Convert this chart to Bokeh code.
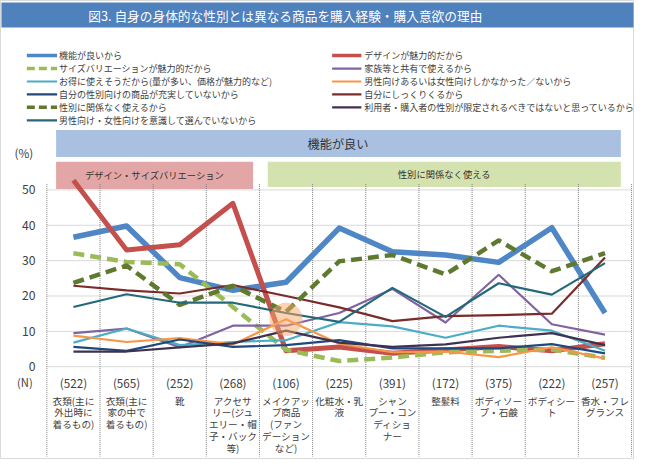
from bokeh.plotting import figure
from bokeh.models import Range1d
from bokeh.embed import file_html
from bokeh.resources import INLINE
from bokeh.core.properties import value

FONT = "Noto Sans CJK JP"

title_text = "図3. 自身の身体的な性別とは異なる商品を購入経験・購入意欲の理由"

categories = [
    "衣類(主に\n外出時に\n着るもの)",
    "衣類(主に\n家の中で\n着るもの)",
    "靴",
    "アクセサ\nリー(ジュ\nエリー・帽\n子・バック\n等)",
    "メイクアッ\nプ商品\n(ファン\nデーション\nなど)",
    "化粧水・乳\n液",
    "シャン\nプー・コン\nディショ\nナー",
    "整髪料",
    "ボディソー\nプ・石鹸",
    "ボディシー\nト",
    "香水・フレ\nグランス",
]
n_values = [522, 565, 252, 268, 106, 225, 391, 172, 375, 222, 257]
y_ticks = [0, 10, 20, 30, 40, 50]

series_names = [
    "機能が良いから",
    "デザインが魅力的だから",
    "サイズバリエーションが魅力的だから",
    "家族等と共有で使えるから",
    "お得に使えそうだから(量が多い、価格が魅力的など)",
    "男性向けあるいは女性向けしかなかった／ないから",
    "自分の性別向けの商品が充実していないから",
    "自分にしっくりくるから",
    "性別に関係なく使えるから",
    "利用者・購入者の性別が限定されるべきではないと思っているから",
    "男性向け・女性向けを意識して選んでいないから",
]
s_kinou = [36.6, 39.8, 25.2, 21.6, 23.9, 39.2, 32.5, 31.6, 29.5, 39.3, 15.2]
s_design = [52.7, 33.0, 34.5, 46.2, 4.5, 5.6, 3.8, 4.7, 5.7, 4.5, 6.5]
s_size = [32.1, 29.6, 29.0, 16.9, 4.8, 1.6, 2.6, 4.1, 4.5, 4.9, 2.5]
s_kazoku = [9.5, 10.8, 5.5, 11.6, 11.6, 15.2, 22.0, 12.5, 26.0, 12.0, 9.1]
s_otoku = [6.8, 10.8, 6.1, 7.0, 7.5, 12.6, 11.4, 8.2, 11.6, 10.2, 4.5]
s_shika = [8.8, 7.0, 8.1, 6.3, 13.4, 6.5, 4.1, 4.3, 2.7, 5.5, 2.3]
s_juujitsu = [5.6, 4.5, 7.7, 5.6, 6.1, 7.5, 5.2, 5.2, 5.2, 6.4, 3.8]
s_shikkuri = [22.9, 21.6, 20.7, 23.1, 20.0, 16.8, 12.9, 14.3, 14.6, 15.0, 30.9]
s_kankei = [23.7, 28.6, 17.5, 22.9, 15.5, 29.8, 31.6, 26.1, 35.7, 27.0, 32.1]
s_riyousha = [4.3, 4.3, 5.5, 6.6, 10.2, 6.8, 5.6, 6.3, 8.2, 9.5, 6.1]
s_ishiki = [16.9, 20.5, 18.1, 18.1, 15.2, 12.7, 22.3, 14.1, 23.6, 20.4, 29.3]

series_values = [s_kinou, s_design, s_size, s_kazoku, s_otoku, s_shika,
                 s_juujitsu, s_shikkuri, s_kankei, s_riyousha, s_ishiki]
series_colors = ["#4f86c6", "#c4504d", "#9bbb59", "#8064a2", "#4bacc6", "#f79646",
                 "#1f497d", "#7a2c2a", "#5f7a2f", "#3f3151", "#23697a"]
series_widths = [5.5, 5, 4.5, 2.2, 2.2, 2.2, 2.2, 2.2, 4.5, 2.2, 2.2]
series_dash = ["solid", "solid", "11 6", "solid", "solid", "solid",
               "solid", "solid", "11 6", "solid", "solid"]

banner_top = "機能が良い"
banner_left = "デザイン・サイズバリエーション"
banner_right = "性別に関係なく使える"

# ---- layout geometry (reference pixel space -> data space) ----
W, H = 634, 459
FS = W / 650.0


def rx(px):
    return -0.5 + (px - 47.5) * 11.0 / 599.5


def ry(py):
    return (379.0 - py) / 3.66


def fs(px):
    return "%.1fpx" % (px * FS)


p = figure(width=W, height=H, x_range=Range1d(rx(0), rx(650)), y_range=Range1d(ry(475), ry(0)),
           output_backend="svg", toolbar_location=None, x_axis_location=None,
           y_axis_location=None, min_border=0)
p.grid.visible = False
p.outline_line_color = "#d9d9d9"
p.background_fill_color = "white"
p.border_fill_color = "white"

TXT = "#404040"

# title bar
p.quad(left=[rx(1)], right=[rx(649)], top=[ry(2)], bottom=[ry(28)], fill_color="#4f81bd", line_color=None)
p.text(x=[rx(90)], y=[ry(15.5)], text=[title_text], text_font=value(FONT), text_font_size=fs(13),
       text_color="white", text_baseline="middle", text_align="left")

# legend (manual, two columns)
for k, name in enumerate(series_names):
    row = k // 2
    if k % 2 == 0:
        x0, x1, xt = 27, 58, 60
    else:
        x0, x1, xt = 340, 370, 373
    yy = ry(57 + 13.4 * row)
    lw = 3.5 if series_widths[k] > 3 else 2.2
    dash = "8 4" if series_dash[k] != "solid" else "solid"
    p.line(x=[rx(x0), rx(x1)], y=[yy, yy], line_color=series_colors[k], line_width=lw, line_dash=dash)
    p.text(x=[rx(xt)], y=[yy], text=[name], text_font=value(FONT), text_font_size=fs(9.2),
           text_color=TXT, text_baseline="middle", text_align="left")

# banners
p.quad(left=[rx(57)], right=[rx(636)], top=[ry(134)], bottom=[ry(162)], fill_color="#a9c0e0", line_color=None)
p.text(x=[rx(346)], y=[ry(148)], text=[banner_top], text_font=value(FONT), text_font_size=fs(12.5),
       text_color="#333333", text_baseline="middle", text_align="center")
p.quad(left=[rx(57)], right=[rx(259)], top=[ry(167)], bottom=[ry(195)], fill_color="#e2a6a6", line_color=None)
p.text(x=[rx(158)], y=[ry(181)], text=[banner_left], text_font=value(FONT), text_font_size=fs(9.5),
       text_color="#333333", text_baseline="middle", text_align="center")
p.quad(left=[rx(274)], right=[rx(636)], top=[ry(167)], bottom=[ry(193)], fill_color="#d3e2ae", line_color=None)
p.text(x=[rx(455)], y=[ry(180)], text=[banner_right], text_font=value(FONT), text_font_size=fs(9.5),
       text_color="#333333", text_baseline="middle", text_align="center")

idx = list(range(len(categories)))

# gridlines
p.segment(x0=[-0.5] * len(y_ticks), x1=[len(categories) - 0.5] * len(y_ticks), y0=y_ticks, y1=y_ticks,
          line_color="#d9d9d9", line_width=1)
# column separators (dotted)
seps = [i - 0.5 for i in range(len(categories) + 1)]
p.segment(x0=seps, x1=seps, y0=[ry(190)] * len(seps), y1=[ry(472)] * len(seps),
          line_color="#7f7f7f", line_width=1, line_dash="1 1")

# y tick labels
p.text(x=[rx(36)] * len(y_ticks), y=y_ticks, text=[str(t) for t in y_ticks], text_font=value(FONT),
       text_font_size=fs(12.5), text_color=TXT, text_baseline="middle", text_align="right")
p.text(x=[rx(24)], y=[ry(157)], text=["(%)"], text_font=value(FONT), text_font_size=fs(12),
       text_color=TXT, text_baseline="middle", text_align="center")

# N row and category labels
p.text(x=[rx(25)], y=[ry(395)], text=["(N)"], text_font=value(FONT), text_font_size=fs(11.5),
       text_color=TXT, text_baseline="middle", text_align="center")
p.text(x=idx, y=[ry(395)] * len(idx), text=["(%d)" % n for n in n_values], text_font=value(FONT),
       text_font_size=fs(12), text_color=TXT, text_baseline="middle", text_align="center")

lx, ly, lt = [], [], []
for i, lab in enumerate(categories):
    for j, part in enumerate(lab.split("\n")):
        lx.append(i)
        ly.append(ry(414 + 12.2 * j))
        lt.append(part)
p.text(x=lx, y=ly, text=lt, text_font=value(FONT), text_font_size=fs(9.8), text_color=TXT,
       text_baseline="middle", text_align="center")

# data lines
for k in range(len(series_names)):
    p.line(x=idx, y=series_values[k], line_color=series_colors[k], line_width=series_widths[k],
           line_dash=series_dash[k], line_join="round")

# highlight circle
p.scatter(x=[4], y=[s_shika[4]], size=34 * FS, fill_color="#f7a867", fill_alpha=0.5, line_color=None)

open("out.html", "w").write(file_html(p, INLINE))
